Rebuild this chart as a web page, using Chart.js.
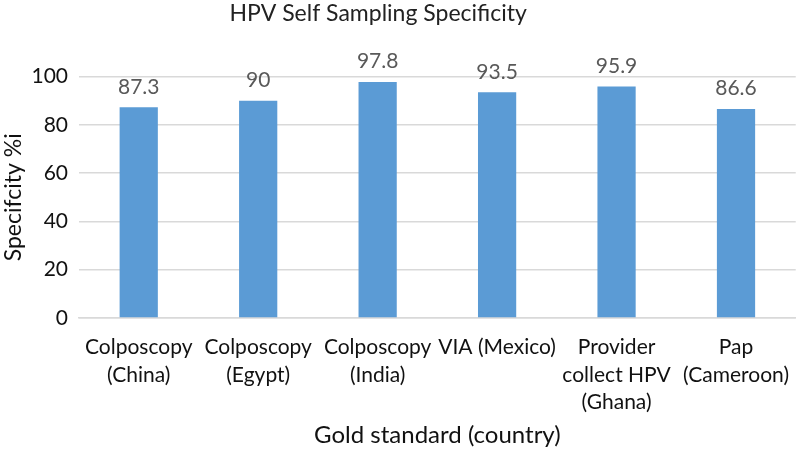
<!DOCTYPE html>
<html>
<head>
<meta charset="utf-8">
<script src="https://cdn.jsdelivr.net/npm/chart.js@4"></script>
<style>
  html, body { margin: 0; padding: 0; background: #fff; }
  #wrap { width: 797px; height: 450px; }
</style>
</head>
<body>
<div id="wrap"><canvas id="chart" width="797" height="450"></canvas></div>
<script>
// data
var categories = [
  ['Colposcopy', '(China)'],
  ['Colposcopy', '(Egypt)'],
  ['Colposcopy', '(India)'],
  'VIA (Mexico)',
  ['Provider', 'collect HPV', '(Ghana)'],
  ['Pap', '(Cameroon)']
];
var specificity = [87.3, 90, 97.8, 93.5, 95.9, 86.6];
var yTicks = [0, 20, 40, 60, 80, 100];

var FONT = 'Lato, "Open Sans", "Liberation Sans", sans-serif';

// draws the value above each bar, like Excel data labels
var barLabels = {
  id: 'barLabels',
  afterDatasetsDraw: function(chart) {
    var ctx = chart.ctx;
    var meta = chart.getDatasetMeta(0);
    ctx.save();
    ctx.font = '21px ' + FONT;
    ctx.fillStyle = '#595959';
    ctx.textAlign = 'center';
    ctx.textBaseline = 'bottom';
    meta.data.forEach(function(bar, i) {
      ctx.fillText(String(specificity[i]), bar.x, bar.y - 10);
    });
    ctx.restore();
  }
};

var ctx = document.getElementById('chart').getContext('2d');
var chart = new Chart(ctx, {
  type: 'bar',
  data: {
    labels: categories,
    datasets: [{
      data: specificity,
      backgroundColor: '#5b9bd5',
      borderWidth: 0,
      categoryPercentage: 1,
      barPercentage: 0.32
    }]
  },
  options: {
    responsive: false,
    animation: false,
    layout: { padding: { top: 0, right: 0, bottom: 0, left: 0 } },
    plugins: {
      legend: { display: false },
      tooltip: { enabled: false },
      title: {
        display: true,
        text: 'HPV Self Sampling Specificity\u00a0\u00a0\u00a0\u00a0\u00a0\u00a0\u00a0',
        color: '#222',
        font: { family: FONT, size: 23, weight: 'normal' },
        padding: { top: 0, bottom: 49 }
      }
    },
    scales: {
      y: {
        min: 0,
        max: 100,
        afterBuildTicks: function(axis) {
          axis.ticks = yTicks.map(function(v) { return { value: v }; });
        },
        afterFit: function(axis) { axis.width = 79; },
        grid: { color: '#d9d9d9', lineWidth: 1.5, drawTicks: false },
        border: { display: false },
        ticks: {
          color: '#111',
          padding: 11,
          font: { family: FONT, size: 21 }
        },
        title: {
          display: true,
          text: 'Specifcity %i',
          color: '#111',
          font: { family: FONT, size: 23 },
          padding: { top: 0, bottom: 0 }
        }
      },
      x: {
        afterFit: function(axis) { axis.height = 132; },
        grid: { display: false },
        border: { color: '#d9d9d9', width: 1.5 },
        ticks: {
          color: '#111',
          maxRotation: 0,
          autoSkip: false,
          padding: 8,
          font: { family: FONT, size: 21, lineHeight: 1.3 }
        },
        title: {
          display: true,
          text: 'Gold standard (country)',
          color: '#111',
          font: { family: FONT, size: 24 },
          padding: { top: 0, bottom: 0 }
        }
      }
    }
  },
  plugins: [barLabels]
});
</script>
</body>
</html>
